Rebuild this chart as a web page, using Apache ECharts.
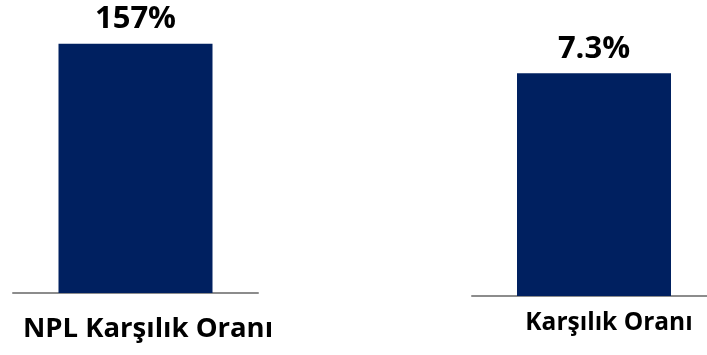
<!DOCTYPE html>
<html>
<head>
<meta charset="utf-8">
<script src="https://cdn.jsdelivr.net/npm/echarts@6/dist/echarts.min.js"></script>
<style>
  html, body { margin: 0; padding: 0; background: #fff; }
  #chart { width: 707px; height: 355px; }
</style>
</head>
<body>
<div id="chart"></div>
<script>
// Two independent ratio panels, each with its own value scale
const leftCategories = ['NPL Karşılık Oranı'];
const leftValues = [157];
const rightCategories = ['Karşılık Oranı'];
const rightValues = [7.3];

const barColor = '#002060';
const axisGray = '#8c8c8c';
const fontFamily = '"Open Sans", Lato, sans-serif';

const chart = echarts.init(document.getElementById('chart'), null, { renderer: 'canvas' });

function valueLabel() {
  return {
    show: true,
    position: 'top',
    distance: 9,
    formatter: p => p.value + '%',
    color: '#000',
    fontFamily: fontFamily,
    fontWeight: 'bold',
    fontSize: 31
  };
}

chart.setOption({
  animation: false,
  grid: [
    { left: 13, width: 245, top: 39, bottom: 62, outerBoundsMode: 'none' },
    { left: 472, width: 244, top: 52, bottom: 59, outerBoundsMode: 'none' }
  ],
  xAxis: [
    {
      gridIndex: 0, type: 'category', data: leftCategories,
      axisLine: { lineStyle: { color: axisGray, width: 2 } },
      axisTick: { show: false },
      axisLabel: {
        margin: 22, color: '#000', fontFamily: fontFamily,
        fontWeight: 'bold', fontSize: 27.5, padding: [0, 0, 0, 25]
      }
    },
    {
      gridIndex: 1, type: 'category', data: rightCategories,
      axisLine: { lineStyle: { color: axisGray, width: 2 } },
      axisTick: { show: false },
      axisLabel: {
        margin: 15, color: '#000', fontFamily: fontFamily,
        fontWeight: 'bold', fontSize: 24.5, padding: [0, 0, 0, 30]
      }
    }
  ],
  yAxis: [
    { gridIndex: 0, type: 'value', min: 0, max: 160, show: false, splitLine: { show: false } },
    { gridIndex: 1, type: 'value', min: 0, max: 8, show: false, splitLine: { show: false } }
  ],
  series: [
    {
      type: 'bar', xAxisIndex: 0, yAxisIndex: 0, data: leftValues,
      barWidth: 154, itemStyle: { color: barColor }, label: valueLabel()
    },
    {
      type: 'bar', xAxisIndex: 1, yAxisIndex: 1, data: rightValues,
      barWidth: 154, itemStyle: { color: barColor }, label: valueLabel()
    }
  ]
});
</script>
</body>
</html>
